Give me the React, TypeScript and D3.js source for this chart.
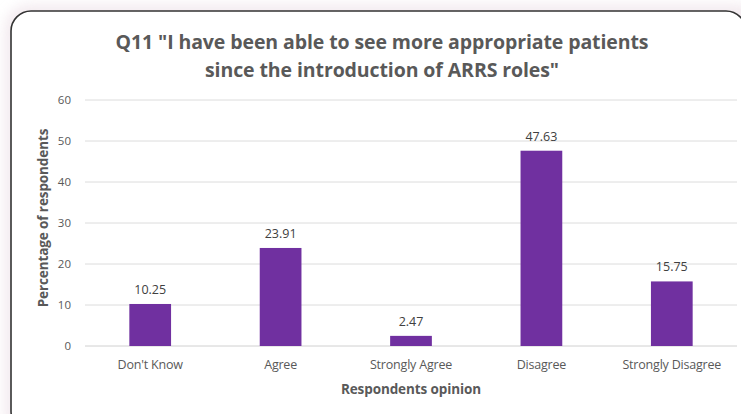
import React from "react";
import * as d3 from "d3";

const categories = ["Don't Know", "Agree", "Strongly Agree", "Disagree", "Strongly Disagree"];
const values = [10.25, 23.91, 2.47, 47.63, 15.75];
const yTicks = [0, 10, 20, 30, 40, 50, 60];
const titleLines = ["Q11 \"I have been able to see more appropriate patients", "since the introduction of ARRS roles\""];
const xTitle = "Respondents opinion";
const yTitle = "Percentage of respondents";

const W = 741, H = 414;
const font = "'Open Sans', sans-serif";

export default function App() {
  const x = d3.scaleBand<string>().domain(categories).range([85, 737]).paddingInner(0.68).paddingOuter(0.34);
  const y = d3.scaleLinear().domain([0, 60]).range([346, 100]);
  return (
    <svg width={W} height={H} style={{ position: "absolute", left: 0, top: 0, display: "block" }} fontFamily={font}>
      <defs>
        <filter id="sh" x="-10%" y="-10%" width="120%" height="120%">
          <feGaussianBlur stdDeviation="6" />
        </filter>
      </defs>
      <rect width={W} height={H} fill="#ffffff" />
      <rect x={4} y={4} width={760} height={440} rx={26} fill="#ecdfe6" opacity={0.6} filter="url(#sh)" />
      <rect x={11} y={11} width={735} height={420} rx={20} fill="#ffffff" stroke="#333" strokeWidth={1.6} />
      {titleLines.map((t, i) => (
        <text key={i} x={382} y={49 + i * 28} textAnchor="middle" fontSize={19.5} fontWeight="bold" fill="#595959" letterSpacing={-0.1}>{t}</text>
      ))}
      {yTicks.map(t => (
        <g key={t}>
          <line x1={85} x2={737} y1={y(t)} y2={y(t)} stroke={t === 0 ? "#d0d0d0" : "#dcdcdc"} strokeWidth={1} />
          <text x={71} y={y(t) + 4} textAnchor="end" fontSize={11.5} fill="#595959">{t}</text>
        </g>
      ))}
      {categories.map((c, i) => (
        <g key={c}>
          <rect x={x(c)!} y={y(values[i])} width={x.bandwidth()} height={y(0) - y(values[i])} fill="#7030A0" />
          <text x={x(c)! + x.bandwidth() / 2} y={y(values[i]) - 10} textAnchor="middle" fontSize={12.5} fill="#404040">{values[i].toFixed(2)}</text>
          <text x={x(c)! + x.bandwidth() / 2} y={369} textAnchor="middle" fontSize={12.5} fill="#595959" letterSpacing={-0.2}>{c}</text>
        </g>
      ))}
      <text x={411} y={394} textAnchor="middle" fontSize={13.5} fontWeight="bold" fill="#595959" letterSpacing={-0.1}>{xTitle}</text>
      <text transform={`translate(48,218) rotate(-90)`} textAnchor="middle" fontSize={13.5} fontWeight="bold" fill="#595959" letterSpacing={-0.1}>{yTitle}</text>
    </svg>
  );
}
